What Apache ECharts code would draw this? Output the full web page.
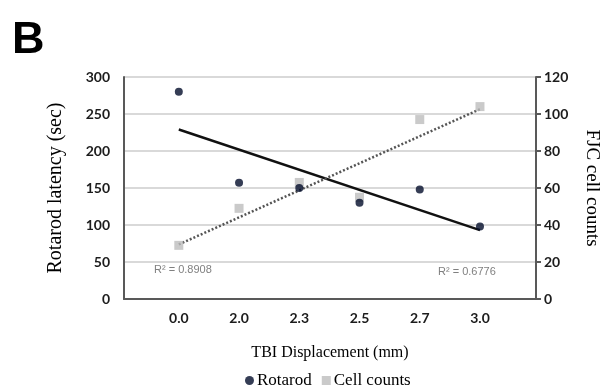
<!DOCTYPE html>
<html><head><meta charset="utf-8">
<script src="https://cdn.jsdelivr.net/npm/echarts@6/dist/echarts.min.js"></script>
<style>html,body{margin:0;padding:0;background:#fff}#c{width:609px;height:391px}</style>
</head><body><div id="c"></div>
<script>
var categories = ['0.0', '2.0', '2.3', '2.5', '2.7', '3.0'];
var rotarod = [280, 157, 150, 130, 148, 98];
var cellCounts = [29, 49, 63, 55, 97, 104];
var rotarodTrend = [229, 93];
var cellTrend = [29.5, 102.6];
var leftTicks = [0, 50, 100, 150, 200, 250, 300];
var rightTicks = [0, 20, 40, 60, 80, 100, 120];

function pts(arr) { return arr.map(function (v, i) { return [i, v]; }); }
function trend(ends) { return [[0, ends[0]], [categories.length - 1, ends[1]]]; }

var chart = echarts.init(document.getElementById('c'), null, {renderer: 'canvas'});
var tickFont = {fontFamily: 'Lato', fontWeight: 'bold', fontSize: 14, color: '#1c1c1c'};
chart.setOption({
  animation: false,
  graphic: [
    {type: 'text', left: 12, top: 18, style: {text: 'B', fontFamily: 'Liberation Sans', fontWeight: 'bold', fontSize: 45, fill: '#000'}},
    {type: 'text', left: 154, top: 264, style: {text: 'R² = 0.8908', fontFamily: 'Liberation Sans', fontSize: 11, fill: '#808080'}},
    {type: 'text', left: 438, top: 266, style: {text: 'R² = 0.6776', fontFamily: 'Liberation Sans', fontSize: 11, fill: '#808080'}}
  ],
  grid: {left: 124, right: 65, top: 77, bottom: 92},
  legend: {
    top: 367, left: 240, itemGap: 10, itemWidth: 9, itemHeight: 9,
    textStyle: {fontFamily: 'Liberation Serif', fontSize: 17, color: '#000', padding: [0, 0, 0, -2]},
    data: [{name: 'Rotarod', icon: 'circle'}, {name: 'Cell counts', icon: 'rect'}]
  },
  xAxis: {
    type: 'value', min: -0.91, max: 5.93,
    name: 'TBI Displacement (mm)', nameLocation: 'middle', nameGap: 46,
    nameTextStyle: {fontFamily: 'Liberation Serif', fontSize: 16, color: '#000'},
    axisLine: {show: true, onZero: false, lineStyle: {color: '#595959', width: 2}},
    axisTick: {show: false},
    splitLine: {show: false},
    axisLabel: {customValues: [0, 1, 2, 3, 4, 5], formatter: function (v) { return categories[Math.round(v)]; }, margin: 12,
      fontFamily: 'Lato', fontWeight: 'bold', fontSize: 14, color: '#1c1c1c'}
  },
  yAxis: [
    {type: 'value', min: 0, max: 300, interval: 50, position: 'left',
      name: 'Rotarod latency (sec)', nameLocation: 'middle', nameGap: 58,
      nameTextStyle: {fontFamily: 'Liberation Serif', fontSize: 20, color: '#000'},
      axisLine: {show: true, onZero: false, lineStyle: {color: '#595959', width: 2}},
      axisTick: {show: false},
      splitLine: {show: true, lineStyle: {color: '#d9d9d9', width: 2}},
      axisLabel: Object.assign({margin: 14, formatter: function (v) { return leftTicks.indexOf(v) >= 0 ? String(v) : ''; }}, tickFont)},
    {type: 'value', min: 0, max: 120, interval: 20, position: 'right',
      name: 'FJC cell counts', nameLocation: 'middle', nameGap: 46, nameRotate: -90,
      nameTextStyle: {fontFamily: 'Liberation Serif', fontSize: 19, color: '#000'},
      axisLine: {show: true, onZero: false, lineStyle: {color: '#595959', width: 2}},
      axisTick: {show: true, length: 5, lineStyle: {color: '#595959', width: 2}},
      splitLine: {show: false},
      axisLabel: Object.assign({margin: 8, formatter: function (v) { return rightTicks.indexOf(v) >= 0 ? String(v) : ''; }}, tickFont)}
  ],
  series: [
    {name: 'Rotarod trend', type: 'line', yAxisIndex: 0, data: trend(rotarodTrend), symbol: 'none',
      lineStyle: {color: '#111', width: 2.5}, z: 3, silent: true},
    {name: 'Cell trend', type: 'line', yAxisIndex: 1, data: trend(cellTrend), symbol: 'none',
      lineStyle: {color: '#555', width: 2.5, type: [2, 2]}, z: 3, silent: true},
    {name: 'Cell counts', type: 'scatter', yAxisIndex: 1, data: pts(cellCounts), symbol: 'rect', symbolSize: 9,
      itemStyle: {color: '#bdbdbd'}, z: 4},
    {name: 'Rotarod', type: 'scatter', yAxisIndex: 0, data: pts(rotarod), symbol: 'circle', symbolSize: 8,
      itemStyle: {color: '#020c2a'}, z: 5}
  ]
});
</script></body></html>
